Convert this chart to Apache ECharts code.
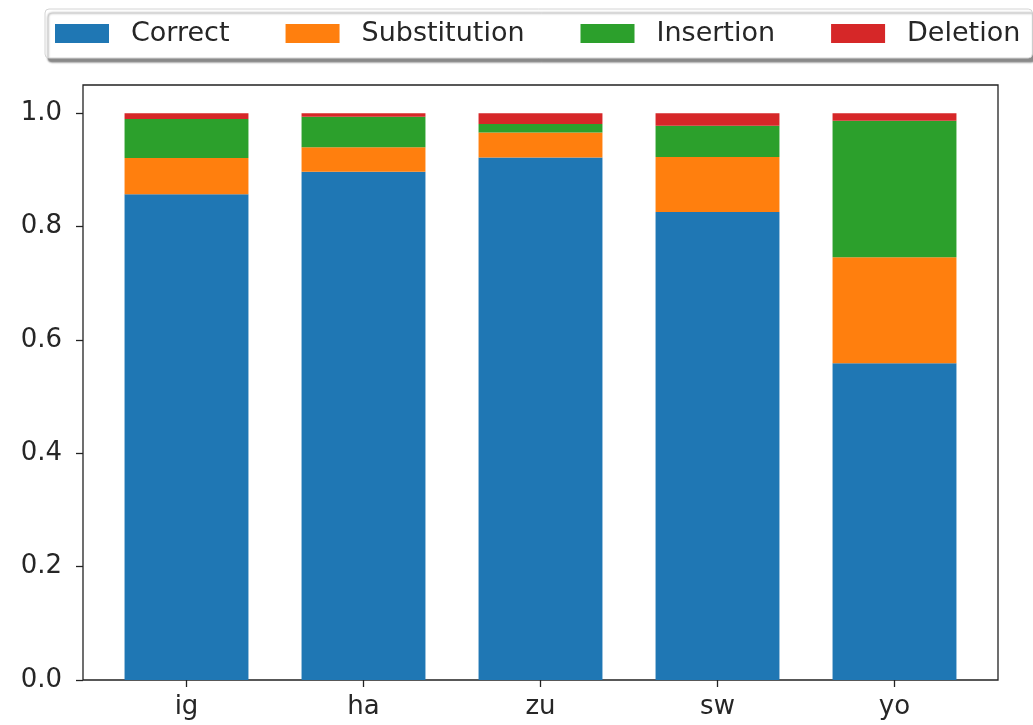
<!DOCTYPE html>
<html>
<head>
<meta charset="utf-8">
<script src="https://cdn.jsdelivr.net/npm/echarts@6/dist/echarts.min.js"></script>
<style>
  html, body { margin: 0; padding: 0; background: #fff; }
  #chart { width: 1033px; height: 725px; }
</style>
</head>
<body>
<div id="chart"></div>
<script>
// values
const categories = ['ig', 'ha', 'zu', 'sw', 'yo'];
const correct = [0.857, 0.897, 0.922, 0.826, 0.559];
const substitution = [0.064, 0.043, 0.044, 0.097, 0.187];
const insertion = [0.069, 0.054, 0.015, 0.055, 0.241];
const deletion = [0.010, 0.006, 0.019, 0.022, 0.013];
const yTicks = [0, 0.2, 0.4, 0.6, 0.8, 1.0];

const colors = ['#1f77b4', '#ff7f0e', '#2ca02c', '#d62728'];
const font = 'DejaVu Sans';
const ink = '#262626';

const chart = echarts.init(document.getElementById('chart'));

const seriesDefs = [
  { name: 'Correct', values: correct },
  { name: 'Substitution', values: substitution },
  { name: 'Insertion', values: insertion },
  { name: 'Deletion', values: deletion },
];

const option = {
  backgroundColor: '#fff',
  animation: false,
  color: colors,
  textStyle: { fontFamily: font },
  legend: {
    left: 45,
    top: 9,
    width: 1200,
    orient: 'horizontal',
    padding: [11, 12, 11, 10],
    itemWidth: 54,
    itemHeight: 19,
    itemGap: 56,
    icon: 'rect',
    backgroundColor: '#fff',
    borderColor: '#d4d4d4',
    borderWidth: 1,
    borderRadius: 4,
    shadowColor: 'rgba(0,0,0,0.45)',
    shadowOffsetX: 3,
    shadowOffsetY: 4,
    shadowBlur: 2,
    textStyle: { fontFamily: font, fontSize: 27, color: ink, padding: [0, 0, 0, 17] },
  },
  grid: [
    // bars: inset so the category centres sit where matplotlib put them
    { left: 98, right: 50, top: 85, bottom: 45 },
    // frame of the axes box
    { left: 83, right: 35, top: 85, bottom: 45, show: true, borderColor: '#222', borderWidth: 1.3 },
  ],
  xAxis: [
    {
      type: 'category',
      gridIndex: 0,
      data: categories,
      boundaryGap: true,
      splitLine: { show: false },
      axisLine: { show: false },
      axisTick: { show: true, alignWithLabel: true, length: 7, lineStyle: { color: '#222', width: 1.3 } },
      axisLabel: { fontFamily: font, fontSize: 26, color: ink, margin: 14 },
    },
    { type: 'value', gridIndex: 1, show: false },
  ],
  yAxis: [
    {
      type: 'value',
      gridIndex: 0,
      min: 0,
      max: 1.05,
      offset: 15,
      splitLine: { show: false },
      axisLine: { show: false },
      axisTick: { show: true, customValues: yTicks, length: 7, lineStyle: { color: '#222', width: 1.3 } },
      axisLabel: {
        customValues: yTicks,
        formatter: v => v.toFixed(1),
        fontFamily: font, fontSize: 26, color: ink, margin: 21,
      },
    },
    { type: 'value', gridIndex: 1, show: false },
  ],
  series: seriesDefs.map(s => ({
    name: s.name,
    type: 'bar',
    stack: 'total',
    xAxisIndex: 0,
    yAxisIndex: 0,
    barWidth: '70%',
    data: s.values,
  })),
};

chart.setOption(option);
</script>
</body>
</html>
